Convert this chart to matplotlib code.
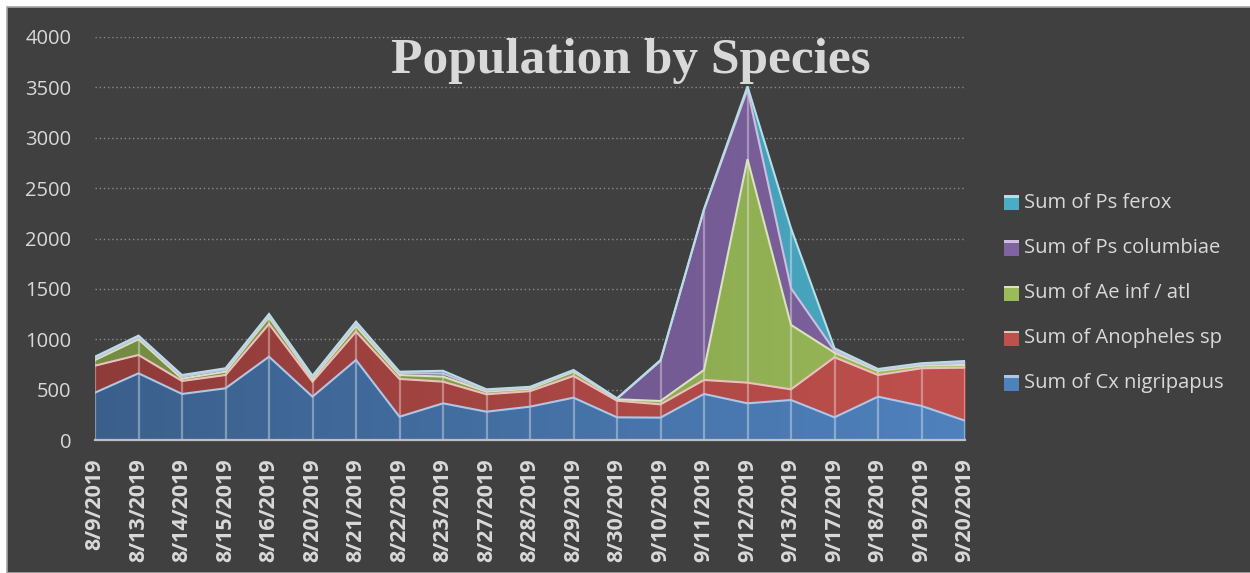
import numpy as np
import matplotlib.pyplot as plt
from matplotlib.colors import LinearSegmentedColormap, to_rgb
from matplotlib.patches import Rectangle

# collection dates (category axis)
dates = ['8/9/2019', '8/13/2019', '8/14/2019', '8/15/2019', '8/16/2019', '8/20/2019',
         '8/21/2019', '8/22/2019', '8/23/2019', '8/27/2019', '8/28/2019', '8/29/2019',
         '8/30/2019', '9/10/2019', '9/11/2019', '9/12/2019', '9/13/2019', '9/17/2019',
         '9/18/2019', '9/19/2019', '9/20/2019']

# counts per species (stacked bottom -> top)
cx_nigripapus = [470, 662, 457, 513, 827, 430, 794, 231, 364, 281, 331, 420, 225, 222, 457, 364, 397, 225, 430, 338, 192]
anopheles_sp = [268, 182, 129, 132, 325, 149, 281, 375, 215, 173, 154, 216, 165, 132, 139, 205, 106, 596, 215, 374, 526]
ae_inf_atl = [56, 156, 23, 33, 66, 27, 57, 39, 50, 26, 23, 42, 14, 33, 99, 2218, 639, 46, 40, 26, 27]
ps_columbiae = [20, 20, 20, 20, 18, 20, 25, 20, 30, 12, 12, 10, 5, 397, 1589, 693, 364, 20, 12, 14, 20]
ps_ferox = [13, 16, 16, 14, 15, 12, 18, 13, 28, 11, 8, 7, 5, 10, 8, 30, 596, 23, 8, 10, 19]

series_names = ['Sum of Cx nigripapus', 'Sum of Anopheles sp', 'Sum of Ae inf / atl',
                'Sum of Ps columbiae', 'Sum of Ps ferox']
series_vals = [cx_nigripapus, anopheles_sp, ae_inf_atl, ps_columbiae, ps_ferox]
colors = ['#4F81BD', '#C0504D', '#9BBB59', '#8064A2', '#4BACC6']
edge_colors = ['#AFC6E6', '#EDC0BF', '#D7E4BD', '#CDBFE0', '#B7DEE8']

bg = '#404040'
txt = '#D9D9D9'

plt.rcParams['font.family'] = ['Open Sans', 'DejaVu Sans']

fig = plt.figure(figsize=(12.5, 5.73), dpi=100)
fig.patch.set_facecolor('white')
fig.add_artist(Rectangle((7 / 1250, 0), 1, 1 - 7 / 573, transform=fig.transFigure,
                         facecolor=bg, edgecolor='#A6A6A6', lw=1.2, zorder=-10))

ax = fig.add_axes([95 / 1250, 1 - 440 / 573, 870 / 1250, 403 / 573])
ax.set_facecolor(bg)

x = np.arange(len(dates))
base = np.zeros(len(dates))
tops = []
for vals, col in zip(series_vals, colors):
    upper = base + np.array(vals)
    poly = ax.fill_between(x, base, upper, color=col, lw=0, zorder=2)
    # darker on the left, like the Excel gradient fill
    dark = tuple(c * 0.74 for c in to_rgb(col))
    cmap = LinearSegmentedColormap.from_list('grad', [dark, col])
    im = ax.imshow(np.linspace(0, 1, 256).reshape(1, -1), cmap=cmap, aspect='auto',
                   extent=[0, len(dates) - 1, 0, 4000], zorder=2, interpolation='bilinear')
    im.set_clip_path(poly.get_paths()[0], transform=ax.transData)
    tops.append(upper)
    base = upper

# drop lines at each date
ax.vlines(x, 0, base, color='white', alpha=0.35, lw=1.6, zorder=3)

# light borders on top of each layer
for upper, ec in zip(tops, edge_colors):
    ax.plot(x, upper, color=ec, lw=1.5, zorder=4, solid_joinstyle='miter')

ax.set_xlim(0, len(dates) - 1)
ax.set_ylim(0, 4000)
ax.set_yticks(np.arange(0, 4001, 500))
ax.set_xticks(x)
ax.set_xticklabels(dates, rotation=90, fontweight='bold', fontsize=15.5, color=txt)
ax.tick_params(axis='y', labelsize=14.5, labelcolor=txt, length=0, pad=17)
ax.tick_params(axis='x', length=0, pad=13)
ax.grid(axis='y', color='#8A8A8A', linestyle=(0, (1, 2)), lw=1, zorder=1)
ax.set_axisbelow(True)
for s in ['top', 'right', 'left']:
    ax.spines[s].set_visible(False)
ax.spines['bottom'].set_color('#BFBFBF')
ax.spines['bottom'].set_linewidth(1.6)
ax.spines['bottom'].set_zorder(5)

fig.text(0.505, 1 - 73 / 573, 'Population by Species', ha='center', va='baseline',
         fontsize=37, fontweight='bold', color=txt, family=['Liberation Serif', 'DejaVu Serif'])

# legend, top entry is the last series
leg_top = 203
leg_step = 45
for i, (name, col, ec) in enumerate(zip(series_names[::-1], colors[::-1], edge_colors[::-1])):
    yc = 1 - (leg_top + i * leg_step) / 573
    fig.add_artist(Rectangle((1004 / 1250, yc - 7.5 / 573), 15 / 1250, 15 / 573,
                             transform=fig.transFigure, facecolor=col, edgecolor='none'))
    fig.add_artist(Rectangle((1004 / 1250, yc + 5 / 573), 15 / 1250, 2.5 / 573,
                             transform=fig.transFigure, facecolor=ec, edgecolor='none'))
    fig.text(1024 / 1250, yc, name, va='center', ha='left', fontsize=14.5, color=txt)

fig.savefig('out.png', dpi=100)
